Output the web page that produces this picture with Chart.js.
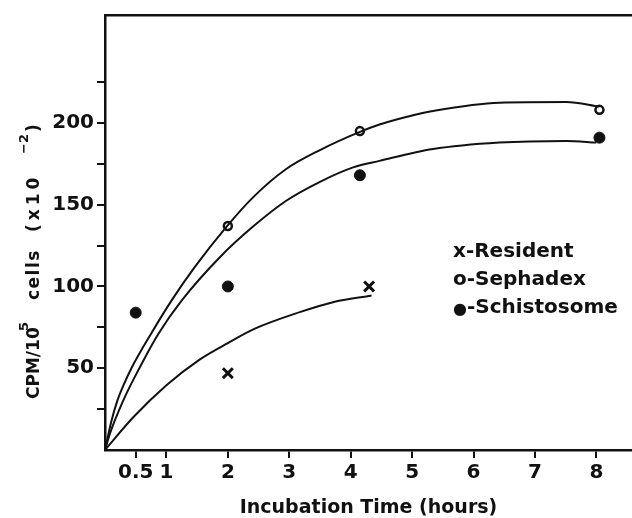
<!DOCTYPE html>
<html>
<head>
<meta charset="utf-8">
<script src="https://cdn.jsdelivr.net/npm/chart.js@4/dist/chart.umd.min.js"></script>
<style>
  html, body { margin: 0; padding: 0; background: #ffffff; }
  canvas { display: block; }
</style>
</head>
<body>
<canvas id="chart" width="632" height="518"></canvas>
<script>
// Measured points (hours, CPM/10^5 cells x10^-2)
const residentHours = [2, 4.3];
const residentCpm = [47, 100];
const sephadexHours = [2, 4.15, 8.05];
const sephadexCpm = [137, 195, 208];
const schistosomeHours = [0.5, 2, 4.15, 8.05];
const schistosomeCpm = [84, 100, 168, 191];

// Hand-fitted curves
const sephadexCurveHours = [0, 0.1, 0.2, 0.3, 0.43, 0.75, 1.085, 1.46, 1.98, 2.41, 2.95, 3.5, 4.15, 4.47, 5.0, 5.34, 6.42, 7.51, 8.05];
const sephadexCurveCpm = [0, 17, 30, 39.5, 50, 71.1, 91.5, 111.8, 136.6, 154.5, 171.8, 183.4, 194.5, 199, 204.5, 207.3, 212.4, 212.8, 210];
const schistosomeCurveHours = [0, 0.08, 0.30, 0.57, 0.87, 1.25, 1.87, 2.41, 2.95, 3.5, 4.04, 4.47, 5.34, 6.42, 7.51, 8.0];
const schistosomeCurveCpm = [0, 10, 30.5, 50.8, 71.1, 91.5, 117.9, 136.6, 152.4, 164, 172.8, 176.8, 184, 188, 189, 188];
const residentCurveHours = [0, 0.46, 1.0, 1.54, 2.0, 2.44, 3.17, 3.71, 4.34];
const residentCurveCpm = [0, 20, 39.6, 55.3, 65.4, 74.2, 84.3, 90.4, 94.5];

// Axis ticks and text
const xTickValues = [0.5, 1, 2, 3, 4, 5, 6, 7, 8];
const yTickValues = [25, 50, 75, 100, 125, 150, 175, 200, 225];
const yLabelledTicks = [50, 100, 150, 200];
const xAxisTitle = 'Incubation Time (hours)';
const yTitleMain = ['CPM/10', 'cells', '(x10', ')'];
const yTitleSup = ['5', '\u22122'];
const legendSymbols = ['x', 'o', '\u25CF'];
const legendLabels = ['-Resident', '-Sephadex', '-Schistosome'];

const INK = '#111111';
const FONT = 'DejaVu Sans';

const toPoints = (xs, ys) => xs.map((x, i) => ({ x: x, y: ys[i] }));

const curveStyle = {
  showLine: true,
  borderColor: INK,
  borderWidth: 2,
  pointRadius: 0,
  cubicInterpolationMode: 'monotone',
  fill: false
};

// Y-axis title with superscripts, plus the in-plot key
const annotationPlugin = {
  id: 'annotations',
  afterDraw(chart) {
    const ctx = chart.ctx;
    ctx.save();
    ctx.fillStyle = INK;
    ctx.textBaseline = 'alphabetic';
    ctx.textAlign = 'left';

    // rotated y title, written bottom to top
    const baseX = 38.5;
    const startY = 399;
    const pieces = [
      { t: yTitleMain[0], at: 0, sup: false, sp: 0 },
      { t: yTitleSup[0], at: 68, sup: true, sp: 0 },
      { t: yTitleMain[1], at: 99, sup: false, sp: 1.5 },
      { t: yTitleMain[2], at: 167, sup: false, sp: 4 },
      { t: yTitleSup[1], at: 245, sup: true, sp: 0 },
      { t: yTitleMain[3], at: 267, sup: false, sp: 0 }
    ];
    pieces.forEach(p => {
      ctx.save();
      ctx.translate(baseX, startY - p.at);
      ctx.rotate(-Math.PI / 2);
      ctx.font = p.sup ? `bold 13px "${FONT}"` : `bold 17px "${FONT}"`;
      if ('letterSpacing' in ctx) ctx.letterSpacing = p.sp + 'px';
      ctx.fillText(p.t, 0, p.sup ? -11 : 0);
      ctx.restore();
    });

    // key
    if ('letterSpacing' in ctx) ctx.letterSpacing = '0px';
    const keyX = 453;
    const keyY = [257, 285, 313];
    legendLabels.forEach((label, i) => {
      const sym = legendSymbols[i];
      const isDot = sym === '\u25CF';
      ctx.font = isDot ? `bold 16px "${FONT}"` : `bold 20px "${FONT}"`;
      const symW = ctx.measureText(sym).width;
      ctx.fillText(sym, keyX, keyY[i] + (isDot ? 1 : 0));
      ctx.font = `bold 20px "${FONT}"`;
      ctx.fillText(label, keyX + symW, keyY[i]);
    });
    ctx.restore();
  }
};

new Chart(document.getElementById('chart'), {
  type: 'scatter',
  data: {
    datasets: [
      Object.assign({ label: 'Sephadex curve', data: toPoints(sephadexCurveHours, sephadexCurveCpm) }, curveStyle),
      Object.assign({ label: 'Schistosome curve', data: toPoints(schistosomeCurveHours, schistosomeCurveCpm) }, curveStyle),
      Object.assign({ label: 'Resident curve', data: toPoints(residentCurveHours, residentCurveCpm) }, curveStyle),
      {
        label: 'Resident',
        data: toPoints(residentHours, residentCpm),
        pointStyle: 'crossRot',
        pointRadius: 7,
        borderColor: INK,
        borderWidth: 3,
        showLine: false
      },
      {
        label: 'Sephadex',
        data: toPoints(sephadexHours, sephadexCpm),
        pointStyle: 'circle',
        pointRadius: 4,
        borderColor: INK,
        backgroundColor: '#ffffff',
        borderWidth: 2.5,
        showLine: false
      },
      {
        label: 'Schistosome',
        data: toPoints(schistosomeHours, schistosomeCpm),
        pointStyle: 'circle',
        pointRadius: 5.5,
        borderColor: INK,
        backgroundColor: INK,
        borderWidth: 1,
        showLine: false
      }
    ]
  },
  options: {
    responsive: false,
    animation: false,
    devicePixelRatio: 1,
    layout: { padding: 0, autoPadding: false },
    plugins: {
      legend: { display: false },
      tooltip: { enabled: false }
    },
    scales: {
      x: {
        type: 'linear',
        position: 'bottom',
        min: 0,
        max: 8.58,
        afterBuildTicks(scale) { scale.ticks = xTickValues.map(v => ({ value: v })); },
        afterFit(scale) { scale.height = 68; },
        ticks: {
          autoSkip: false,
          maxRotation: 0,
          padding: 3,
          color: INK,
          font: { family: FONT, size: 20, weight: 'bold' },
          callback: v => String(v)
        },
        grid: { display: true, drawOnChartArea: false, drawTicks: true, tickLength: 8, color: INK, lineWidth: 2 },
        border: { display: true, color: INK, width: 2.5 },
        title: {
          display: true,
          text: xAxisTitle,
          color: INK,
          padding: 0,
          font: { family: FONT, size: 19, weight: 'bold', lineHeight: 1 }
        }
      },
      xTop: {
        type: 'linear',
        position: 'top',
        min: 0,
        max: 8.58,
        afterFit(scale) { scale.height = 14; },
        ticks: { display: false },
        grid: { display: true, drawOnChartArea: false, drawTicks: false },
        border: { display: true, color: INK, width: 2.5 }
      },
      y: {
        type: 'linear',
        position: 'left',
        min: 0,
        max: 266,
        afterBuildTicks(scale) { scale.ticks = yTickValues.map(v => ({ value: v })); },
        afterFit(scale) { scale.width = 105; },
        ticks: {
          autoSkip: false,
          padding: 3,
          color: INK,
          font: { family: FONT, size: 20, weight: 'bold' },
          callback: v => (yLabelledTicks.includes(v) ? String(v) : '')
        },
        grid: { display: true, drawOnChartArea: false, drawTicks: true, tickLength: 8, color: INK, lineWidth: 2 },
        border: { display: true, color: INK, width: 2.5 }
      }
    }
  },
  plugins: [annotationPlugin]
});
</script>
</body>
</html>
